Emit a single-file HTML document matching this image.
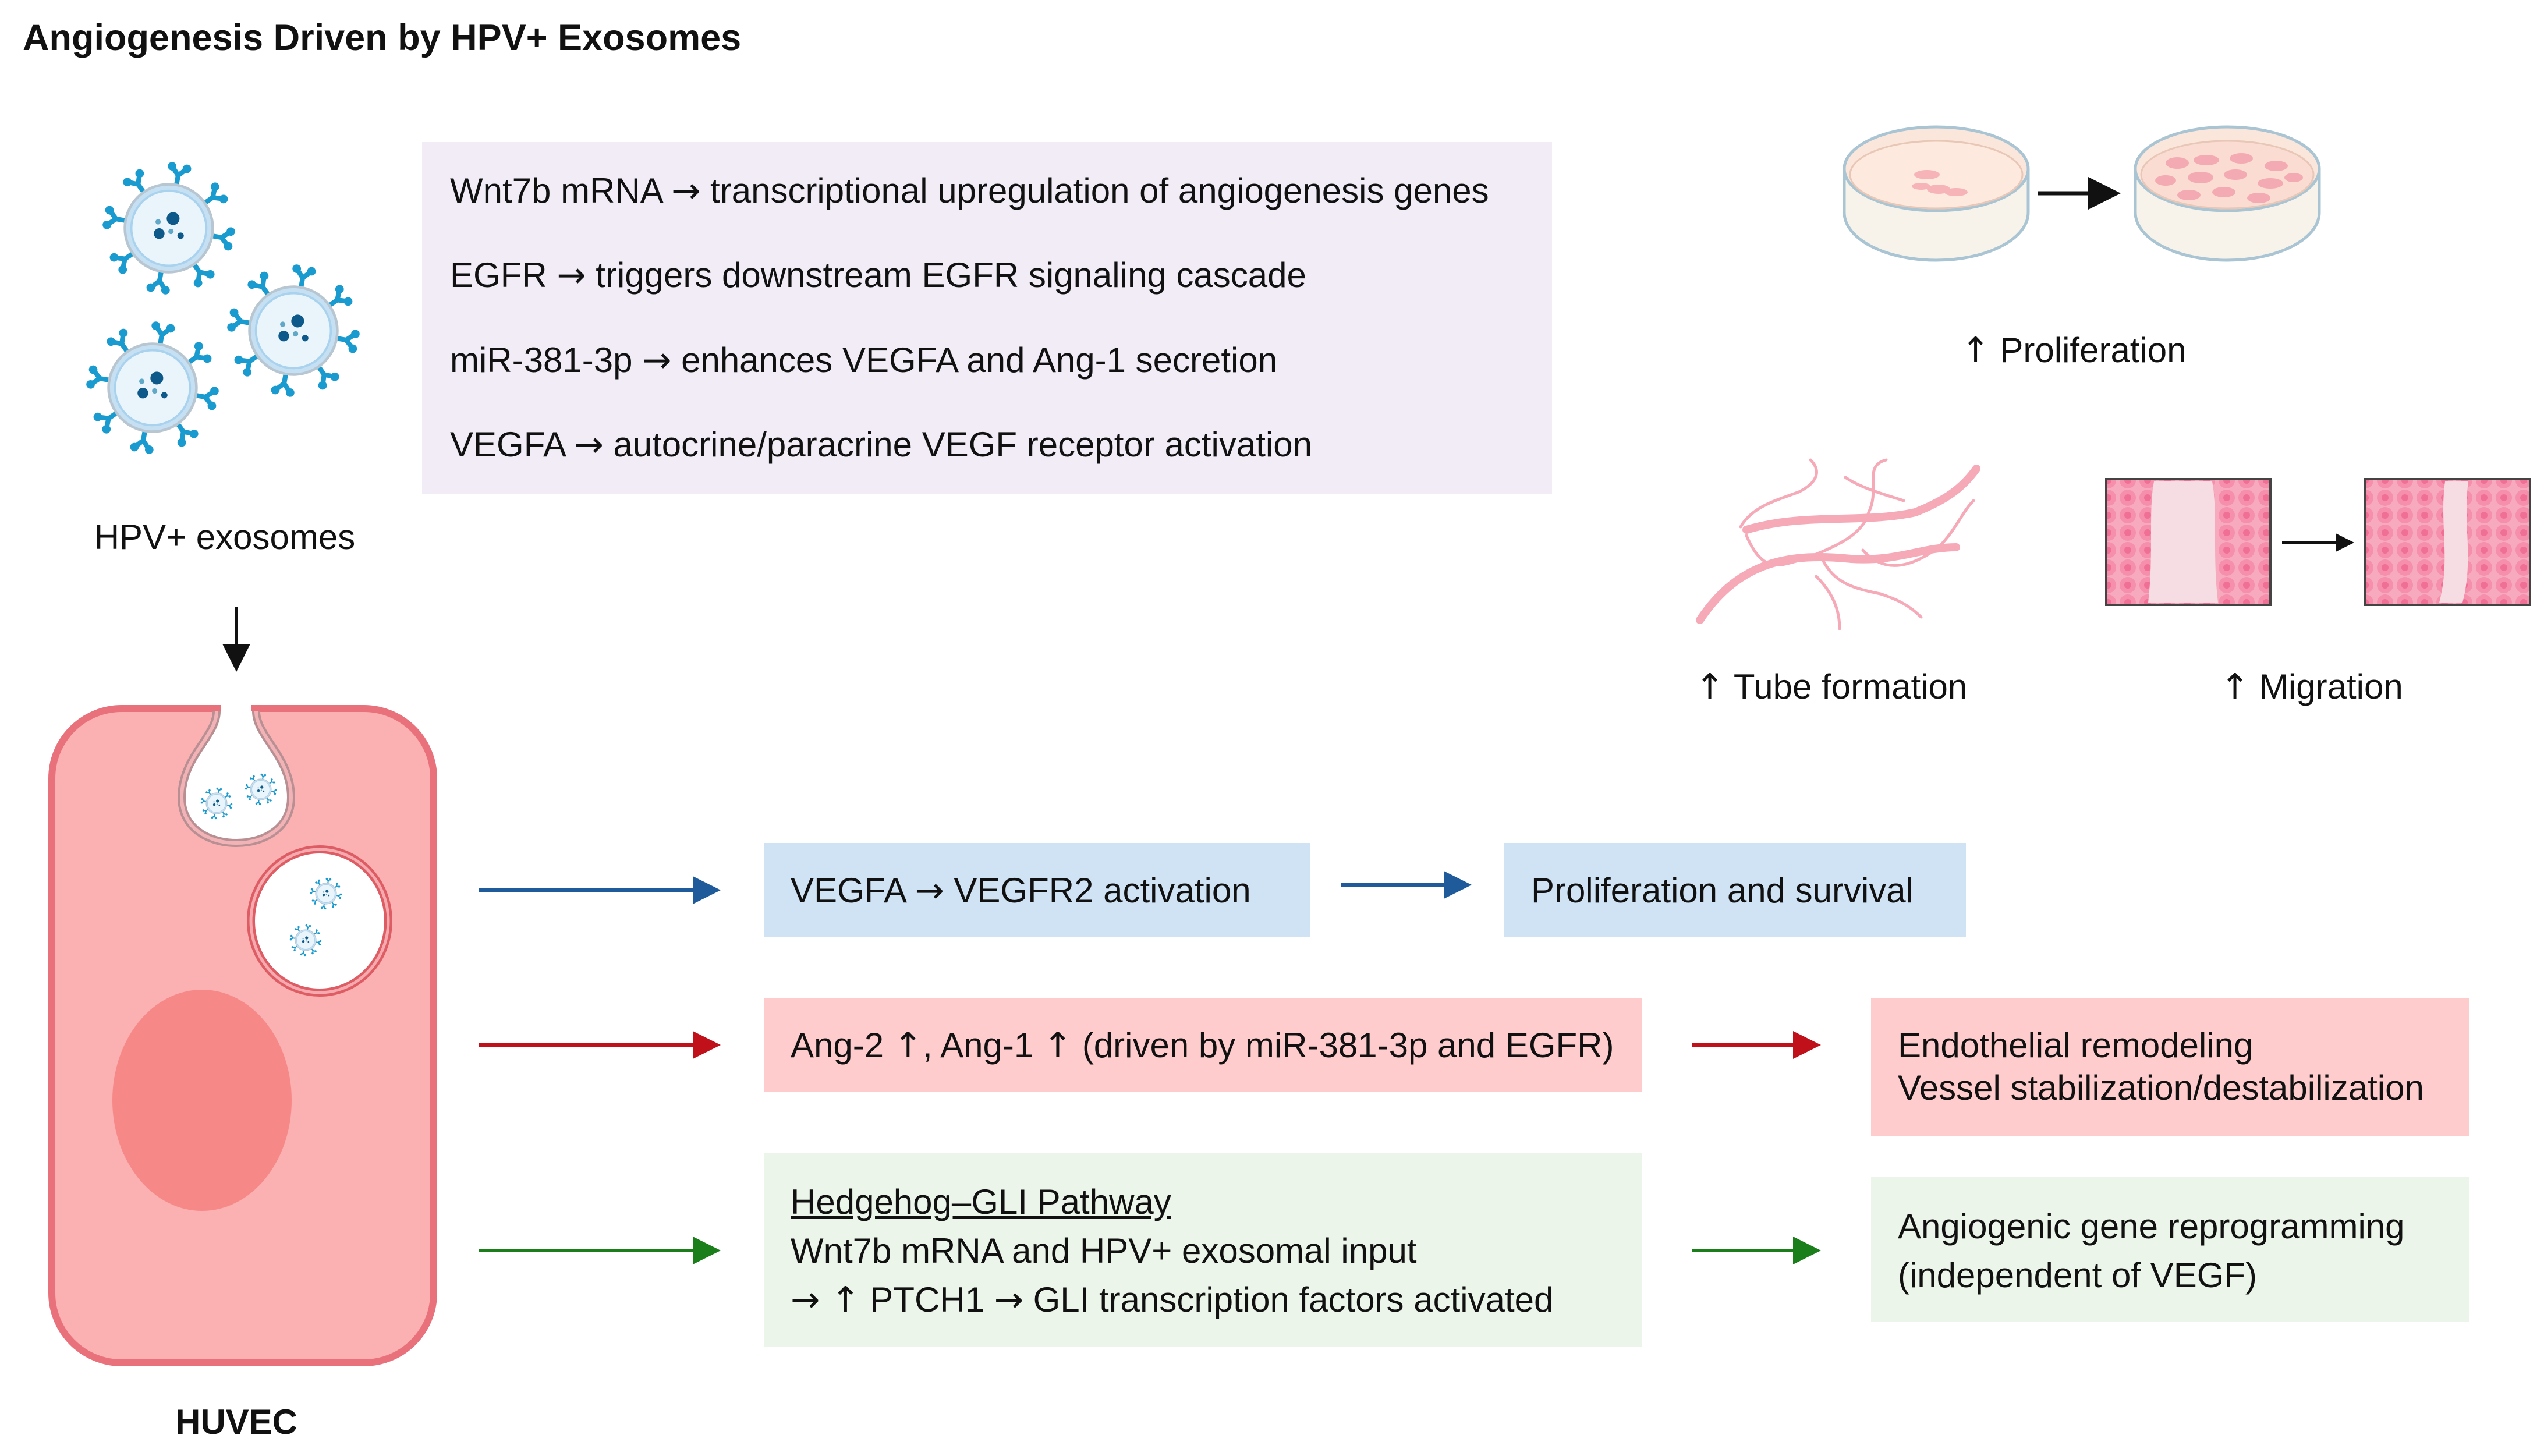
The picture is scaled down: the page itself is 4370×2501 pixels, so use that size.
<!DOCTYPE html>
<html><head><meta charset="utf-8"><style>
html,body{margin:0;padding:0;background:#fff;}
svg{display:block;}
text{font-family:"Liberation Sans",Arial,sans-serif;fill:#111;}
.a{font-family:"DejaVu Sans",sans-serif;}
</style></head><body>
<svg width="4370" height="2501" viewBox="0 0 4370 2501" xmlns="http://www.w3.org/2000/svg">
<defs>
  <g id="spike" stroke="#1a9bd0" stroke-width="9" fill="#1a9bd0" stroke-linecap="round">
    <line x1="0" y1="-80" x2="0" y2="-100"/>
    <line x1="0" y1="-100" x2="-12" y2="-113"/>
    <line x1="0" y1="-100" x2="12" y2="-113"/>
    <circle cx="-14" cy="-115" r="8" stroke="none"/>
    <circle cx="14" cy="-115" r="8" stroke="none"/>
  </g>
  <g id="exo">
    <use href="#spike" transform="rotate(10)"/><use href="#spike" transform="rotate(55)"/><use href="#spike" transform="rotate(100)"/><use href="#spike" transform="rotate(145)"/>
    <use href="#spike" transform="rotate(190)"/><use href="#spike" transform="rotate(235)"/><use href="#spike" transform="rotate(280)"/><use href="#spike" transform="rotate(325)"/>
    <circle r="82" fill="#c5e0f2" stroke="#b8c6d2" stroke-width="5"/>
    <circle r="70" fill="#eaf4fb" stroke="#a9d2ee" stroke-width="4"/>
    <circle cx="8" cy="-18" r="12" fill="#0d5a8a"/>
    <circle cx="-18" cy="10" r="10" fill="#0d5a8a"/>
    <circle cx="22" cy="14" r="6" fill="#0d5a8a"/>
    <circle cx="-20" cy="-12" r="5" fill="#5fa8c8"/>
    <circle cx="4" cy="6" r="5" fill="#5fa8c8"/>
  </g>
  <marker id="ab" markerWidth="8" markerHeight="8" refX="7" refY="4" orient="auto" markerUnits="strokeWidth"><path d="M0,0 L8,4 L0,8 Z" fill="#1f5a9a"/></marker>
  <marker id="ar" markerWidth="8" markerHeight="8" refX="7" refY="4" orient="auto" markerUnits="strokeWidth"><path d="M0,0 L8,4 L0,8 Z" fill="#c0101a"/></marker>
  <marker id="ag" markerWidth="8" markerHeight="8" refX="7" refY="4" orient="auto" markerUnits="strokeWidth"><path d="M0,0 L8,4 L0,8 Z" fill="#1a7f1a"/></marker>
  <marker id="ak" markerWidth="8" markerHeight="8" refX="7" refY="4" orient="auto" markerUnits="strokeWidth"><path d="M0,0 L8,4 L0,8 Z" fill="#111"/></marker>
  <pattern id="cells" width="34" height="30" patternUnits="userSpaceOnUse">
    <rect width="34" height="30" fill="#f7a9bd"/>
    <circle cx="17" cy="15" r="14" fill="#f58fab"/>
    <circle cx="17" cy="15" r="6" fill="#f06f95"/>
  </pattern>
</defs>

<text x="39" y="86" font-size="63" font-weight="bold">Angiogenesis Driven by HPV+ Exosomes</text>

<use href="#exo" transform="translate(290,392) scale(0.92)"/>
<use href="#exo" transform="translate(504,568) scale(0.92)"/>
<use href="#exo" transform="translate(262,666) scale(0.92)"/>
<text x="386" y="943" font-size="60" text-anchor="middle">HPV+ exosomes</text>
<line x1="406" y1="1042" x2="406" y2="1148" stroke="#111" stroke-width="6" marker-end="url(#ak)"/>

<rect x="725" y="244" width="1941" height="604" fill="#f1ecf6"/>
<text x="773" y="348" font-size="60">Wnt7b mRNA <tspan class="a">→</tspan> transcriptional upregulation of angiogenesis genes</text>
<text x="773" y="493" font-size="60">EGFR <tspan class="a">→</tspan> triggers downstream EGFR signaling cascade</text>
<text x="773" y="639" font-size="60">miR-381-3p <tspan class="a">→</tspan> enhances VEGFA and Ang-1 secretion</text>
<text x="773" y="784" font-size="60">VEGFA <tspan class="a">→</tspan> autocrine/paracrine VEGF receptor activation</text>

<rect x="89" y="1217" width="656" height="1124" rx="120" fill="#fbb1b1" stroke="#e9717b" stroke-width="12"/>
<ellipse cx="347" cy="1890" rx="154" ry="190" fill="#f78888"/>
<path d="M372,1222 C372,1265 312,1300 312,1370 C312,1420 355,1448 406,1448 C457,1448 500,1420 500,1370 C500,1300 440,1265 440,1222" fill="#fff" stroke="#b88f92" stroke-width="14"/>
<path d="M372,1222 C372,1265 312,1300 312,1370 C312,1420 355,1448 406,1448 C457,1448 500,1420 500,1370 C500,1300 440,1265 440,1222" fill="none" stroke="#f1b3b5" stroke-width="6"/>
<rect x="380" y="1210" width="52" height="16" fill="#fff"/>
<use href="#exo" transform="translate(372,1380) scale(0.22)"/>
<use href="#exo" transform="translate(448,1356) scale(0.22)"/>
<ellipse cx="549" cy="1582" rx="118" ry="123" fill="#fff" stroke="#de5d64" stroke-width="14"/>
<ellipse cx="549" cy="1582" rx="118" ry="123" fill="none" stroke="#f4aaae" stroke-width="5"/>
<use href="#exo" transform="translate(560,1535) scale(0.22)"/>
<use href="#exo" transform="translate(525,1615) scale(0.22)"/>
<text x="406" y="2463" font-size="60" font-weight="bold" text-anchor="middle">HUVEC</text>

<line x1="823" y1="1529" x2="1232" y2="1529" stroke="#1f5a9a" stroke-width="6" marker-end="url(#ab)"/>
<line x1="823" y1="1795" x2="1232" y2="1795" stroke="#c0101a" stroke-width="6" marker-end="url(#ar)"/>
<line x1="823" y1="2148" x2="1232" y2="2148" stroke="#1a7f1a" stroke-width="6" marker-end="url(#ag)"/>

<rect x="1313" y="1448" width="938" height="162" fill="#cfe3f5"/>
<text x="1358" y="1550" font-size="60">VEGFA <tspan class="a">→</tspan> VEGFR2 activation</text>
<line x1="2304" y1="1520" x2="2522" y2="1520" stroke="#1f5a9a" stroke-width="6" marker-end="url(#ab)"/>
<rect x="2584" y="1448" width="793" height="162" fill="#cfe3f5"/>
<text x="2630" y="1550" font-size="60">Proliferation and survival</text>

<rect x="1313" y="1714" width="1507" height="162" fill="#fecccc"/>
<text x="1358" y="1816" font-size="60">Ang-2 <tspan class="a">↑</tspan>, Ang-1 <tspan class="a">↑</tspan> (driven by miR-381-3p and EGFR)</text>
<line x1="2906" y1="1795" x2="3122" y2="1795" stroke="#c0101a" stroke-width="6" marker-end="url(#ar)"/>
<rect x="3214" y="1714" width="1028" height="238" fill="#fecccc"/>
<text x="3260" y="1816" font-size="60">Endothelial remodeling</text>
<text x="3260" y="1889" font-size="60">Vessel stabilization/destabilization</text>

<rect x="1313" y="1980" width="1507" height="333" fill="#ebf5e9"/>
<text x="1358" y="2085" font-size="60" text-decoration="underline">Hedgehog–GLI Pathway</text>
<text x="1358" y="2169" font-size="60">Wnt7b mRNA and HPV+ exosomal input</text>
<text x="1358" y="2253" font-size="60"><tspan class="a">→ ↑</tspan> PTCH1 <tspan class="a">→</tspan> GLI transcription factors activated</text>
<line x1="2906" y1="2148" x2="3122" y2="2148" stroke="#1a7f1a" stroke-width="6" marker-end="url(#ag)"/>
<rect x="3214" y="2022" width="1028" height="249" fill="#ebf5e9"/>
<text x="3260" y="2127" font-size="60">Angiogenic gene reprogramming</text>
<text x="3260" y="2211" font-size="60">(independent of VEGF)</text>

<g>
  <ellipse cx="3326" cy="365" rx="158" ry="82" fill="#f7f3ea" stroke="#a9c4d3" stroke-width="5"/>
  <rect x="3168" y="290" width="316" height="75" fill="#f7f3ea"/>
  <line x1="3168" y1="290" x2="3168" y2="365" stroke="#a9c4d3" stroke-width="5"/>
  <line x1="3484" y1="290" x2="3484" y2="365" stroke="#a9c4d3" stroke-width="5"/>
  <ellipse cx="3326" cy="290" rx="158" ry="72" fill="#fbe6dc" stroke="#a9c4d3" stroke-width="5"/>
  <ellipse cx="3326" cy="300" rx="148" ry="58" fill="#fde9de" stroke="#e8c7b6" stroke-width="3"/>
  <g fill="#f6b3b8"><ellipse cx="3310" cy="300" rx="22" ry="8"/><ellipse cx="3330" cy="325" rx="20" ry="8"/><ellipse cx="3360" cy="330" rx="20" ry="7"/><ellipse cx="3300" cy="320" rx="16" ry="6"/></g>
</g>
<line x1="3500" y1="332" x2="3636" y2="332" stroke="#111" stroke-width="7" marker-end="url(#ak)"/>
<g>
  <ellipse cx="3826" cy="365" rx="158" ry="82" fill="#f7f3ea" stroke="#a9c4d3" stroke-width="5"/>
  <rect x="3668" y="290" width="316" height="75" fill="#f7f3ea"/>
  <line x1="3668" y1="290" x2="3668" y2="365" stroke="#a9c4d3" stroke-width="5"/>
  <line x1="3984" y1="290" x2="3984" y2="365" stroke="#a9c4d3" stroke-width="5"/>
  <ellipse cx="3826" cy="290" rx="158" ry="72" fill="#fbe6dc" stroke="#a9c4d3" stroke-width="5"/>
  <ellipse cx="3826" cy="300" rx="148" ry="58" fill="#fbdcd3" stroke="#e8c7b6" stroke-width="3"/>
  <g fill="#f4aab2">
    <ellipse cx="3740" cy="280" rx="20" ry="10"/><ellipse cx="3790" cy="275" rx="22" ry="9"/><ellipse cx="3850" cy="272" rx="20" ry="9"/><ellipse cx="3910" cy="285" rx="20" ry="9"/>
    <ellipse cx="3720" cy="310" rx="18" ry="9"/><ellipse cx="3780" cy="305" rx="22" ry="10"/><ellipse cx="3840" cy="300" rx="20" ry="9"/><ellipse cx="3900" cy="315" rx="22" ry="9"/>
    <ellipse cx="3760" cy="335" rx="20" ry="9"/><ellipse cx="3820" cy="330" rx="20" ry="9"/><ellipse cx="3880" cy="340" rx="20" ry="9"/><ellipse cx="3940" cy="305" rx="16" ry="8"/>
  </g>
</g>
<text x="3562" y="622" font-size="60" text-anchor="middle"><tspan class="a">↑</tspan> Proliferation</text>

<g fill="none" stroke="#f6aab8" stroke-linecap="round">
  <path d="M2920,1065 C2990,960 3080,950 3180,960 C3260,965 3300,940 3360,940" stroke-width="14"/>
  <path d="M3000,910 C3100,880 3200,900 3290,880 C3340,860 3370,840 3395,805" stroke-width="14"/>
  <path d="M2990,905 C3010,870 3050,860 3090,845 C3120,830 3130,810 3110,790" stroke-width="5"/>
  <path d="M3000,920 C3030,990 3060,970 3100,960 C3150,940 3200,920 3210,880 C3230,840 3200,800 3240,790" stroke-width="5"/>
  <path d="M3130,960 C3150,1000 3180,1010 3230,1020 C3260,1030 3280,1040 3300,1060" stroke-width="5"/>
  <path d="M3200,945 C3240,990 3290,970 3330,940 C3360,910 3370,880 3390,860" stroke-width="5"/>
  <path d="M3170,820 C3200,840 3240,850 3270,860" stroke-width="5"/>
  <path d="M3120,990 C3150,1020 3160,1050 3160,1080" stroke-width="5"/>
</g>
<text x="2912" y="1200" font-size="60"><tspan class="a">↑</tspan> Tube formation</text>

<rect x="3618" y="823" width="282" height="216" fill="url(#cells)" stroke="#444" stroke-width="4"/>
<path d="M3700,827 C3690,880 3700,950 3690,1035 L3810,1035 C3800,950 3810,880 3800,827 Z" fill="#f6dde3"/>
<rect x="3618" y="823" width="282" height="216" fill="none" stroke="#444" stroke-width="4"/>
<line x1="3920" y1="932" x2="4040" y2="932" stroke="#111" stroke-width="4" marker-end="url(#ak)"/>
<rect x="4063" y="823" width="283" height="216" fill="url(#cells)" stroke="#444" stroke-width="4"/>
<path d="M4200,827 C4190,900 4210,960 4190,1035 L4230,1035 C4250,960 4230,900 4240,827 Z" fill="#f6dde3"/>
<rect x="4063" y="823" width="283" height="216" fill="none" stroke="#444" stroke-width="4"/>
<text x="3814" y="1200" font-size="60"><tspan class="a">↑</tspan> Migration</text>
</svg>
</body></html>
